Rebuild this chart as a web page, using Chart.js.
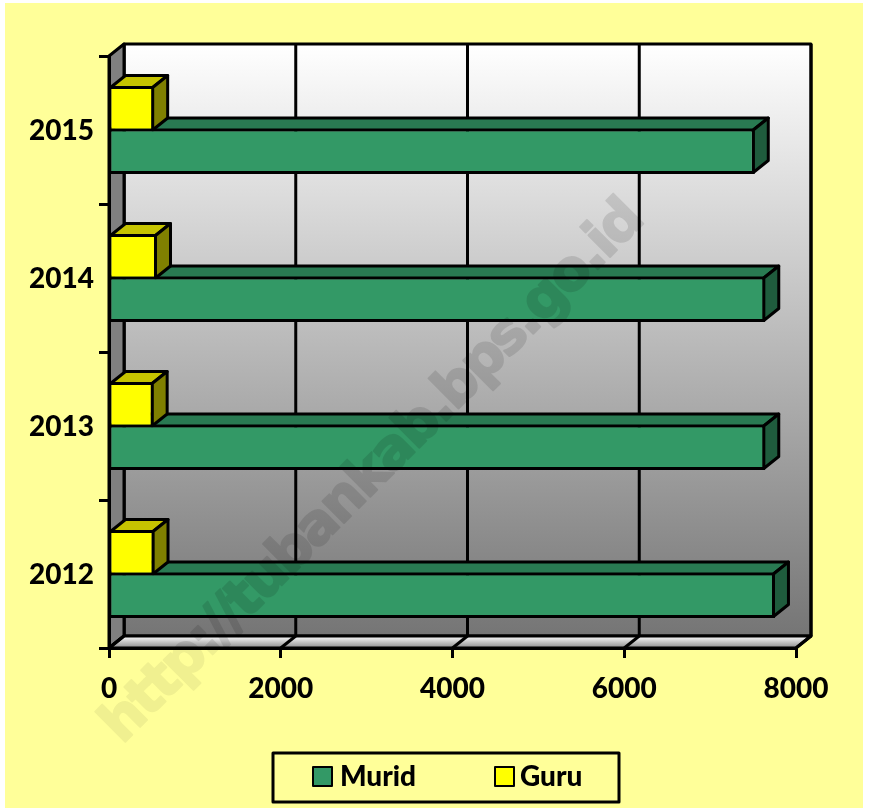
<!DOCTYPE html>
<html>
<head>
<meta charset="utf-8">
<script src="https://cdn.jsdelivr.net/npm/chart.js@4/dist/chart.umd.js"></script>
<style>
    html, body { margin: 0; padding: 0; background: #fff; }
    canvas { display: block; }
</style>
</head>
<body>
<canvas id="grafik" width="869" height="810"></canvas>
<script>
// ---- data
const tahun = ['2012', '2013', '2014', '2015'];
const murid = [7755, 7642, 7642, 7520];
const guru = [530, 520, 559, 526];
const xTicks = [0, 2000, 4000, 6000, 8000];

const DEPTH_X = 15;
const DEPTH_Y = 12;
const LINE = 3;
const FONT = {family: 'Lato', weight: '900', size: 28};

const poly = (ctx, pts, fill) => {
    ctx.beginPath();
    pts.forEach((p, i) => i ? ctx.lineTo(p[0], p[1]) : ctx.moveTo(p[0], p[1]));
    ctx.closePath();
    if (fill) {
        ctx.fillStyle = fill;
        ctx.fill();
    }
    ctx.stroke();
};

// walls and floor of the 3D box, behind everything else
const walls = {
    id: 'walls',
    beforeDraw(chart) {
        const {ctx, chartArea: a, scales} = chart;
        ctx.save();
        // page background of the picture
        ctx.fillStyle = '#FFFF99';
        ctx.fillRect(5, 3, 858, 805);

        ctx.strokeStyle = '#000';
        ctx.lineWidth = LINE;
        ctx.lineJoin = 'round';

        const back = ctx.createLinearGradient(0, a.top - DEPTH_Y, 0, a.bottom - DEPTH_Y);
        back.addColorStop(0, '#FFFFFF');
        back.addColorStop(1, '#757575');
        ctx.fillStyle = back;
        ctx.fillRect(a.left + DEPTH_X, a.top - DEPTH_Y, a.width, a.height);

        // gridlines on the back wall
        xTicks.forEach(v => {
            const x = scales.x.getPixelForValue(v);
            ctx.beginPath();
            ctx.moveTo(x + DEPTH_X, a.top - DEPTH_Y);
            ctx.lineTo(x + DEPTH_X, a.bottom - DEPTH_Y);
            ctx.stroke();
        });
        ctx.strokeRect(a.left + DEPTH_X, a.top - DEPTH_Y, a.width, a.height);

        // left wall
        poly(ctx, [[a.left, a.top], [a.left + DEPTH_X, a.top - DEPTH_Y],
            [a.left + DEPTH_X, a.bottom - DEPTH_Y], [a.left, a.bottom]], '#808080');

        // floor
        const floor = ctx.createLinearGradient(0, a.bottom - DEPTH_Y, 0, a.bottom);
        floor.addColorStop(0, '#FFFFFF');
        floor.addColorStop(1, '#8C8C8C');
        poly(ctx, [[a.left, a.bottom], [a.left + DEPTH_X, a.bottom - DEPTH_Y],
            [a.right + DEPTH_X, a.bottom - DEPTH_Y], [a.right, a.bottom]], floor);
        xTicks.forEach(v => {
            const x = scales.x.getPixelForValue(v);
            ctx.beginPath();
            ctx.moveTo(x, a.bottom);
            ctx.lineTo(x + DEPTH_X, a.bottom - DEPTH_Y);
            ctx.stroke();
        });
        ctx.restore();
    }
};

// top and side faces of the bars, taken from the bar elements
const barFaces = {
    id: 'barFaces',
    beforeDatasetsDraw(chart) {
        const {ctx} = chart;
        ctx.save();
        ctx.strokeStyle = '#000';
        ctx.lineWidth = LINE;
        ctx.lineJoin = 'round';
        chart.data.datasets.forEach((ds, d) => {
            chart.getDatasetMeta(d).data.forEach(bar => {
                // the shared edge between Guru and Murid sits on the bar limit
                const top = bar.y - bar.height / 2 + (ds.borderWidth.top === LINE ? LINE / 2 : 0);
                const bottom = bar.y + bar.height / 2 - (ds.borderWidth.bottom === LINE ? LINE / 2 : 0);
                const right = bar.x - LINE / 2;
                const left = bar.base;
                poly(ctx, [[left, top], [left + DEPTH_X, top - DEPTH_Y],
                    [right + DEPTH_X, top - DEPTH_Y], [right, top]], ds.topColor);
                poly(ctx, [[right, top], [right + DEPTH_X, top - DEPTH_Y],
                    [right + DEPTH_X, bottom - DEPTH_Y], [right, bottom]], ds.sideColor);
            });
        });
        ctx.restore();
    }
};

// legend frame + watermark on top of the chart
const overlay = {
    id: 'overlay',
    afterDraw(chart) {
        const {ctx, chartArea: a} = chart;
        ctx.save();
        ctx.strokeStyle = '#000';
        ctx.lineWidth = LINE;
        ctx.lineJoin = 'round';
        ctx.strokeRect(273, 753, 346, 49);

        const boxX = [313, 495];
        const textX = [340, 520];
        ctx.font = '900 28px Lato';
        ctx.textBaseline = 'middle';
        chart.data.datasets.forEach((ds, i) => {
            ctx.fillStyle = ds.backgroundColor;
            ctx.lineWidth = 2;
            ctx.fillRect(boxX[i], 767, 19, 19);
            ctx.strokeRect(boxX[i], 767, 19, 19);
            ctx.fillStyle = '#000';
            ctx.fillText(ds.label, textX[i], 777);
        });
        ctx.restore();

        // watermark: solid on a spare canvas so the thick outline does not double up
        const spare = document.createElement('canvas');
        spare.width = chart.width;
        spare.height = chart.height;
        const wm = spare.getContext('2d');
        wm.translate(122, 745);
        wm.rotate(-Math.PI / 4);
        wm.font = 'bold 56px "DejaVu Sans"';
        wm.letterSpacing = '-2.9px';
        wm.lineWidth = 2;
        wm.lineJoin = 'round';
        wm.fillText('http://tubankab.bps.go.id', 0, 0);
        wm.strokeText('http://tubankab.bps.go.id', 0, 0);

        // paler on the yellow background than on the plot
        const left = a.left;
        const top = a.top - DEPTH_Y;
        const w = a.width + DEPTH_X;
        const h = a.height + DEPTH_Y;
        ctx.save();
        ctx.globalAlpha = 0.06;
        ctx.beginPath();
        ctx.rect(5, 3, 858, 805);
        ctx.rect(left, top, w, h);
        ctx.clip('evenodd');
        ctx.drawImage(spare, 0, 0);
        ctx.restore();
        ctx.save();
        ctx.globalAlpha = 0.11;
        ctx.beginPath();
        ctx.rect(left, top, w, h);
        ctx.clip();
        ctx.drawImage(spare, 0, 0);
        ctx.restore();
    }
};

const ctx = document.getElementById('grafik').getContext('2d');
const myChart = new Chart(ctx, {
    type: 'bar',
    data: {
        labels: tahun,
        datasets: [
            {
                label: 'Murid',
                data: murid,
                order: 2,
                backgroundColor: '#339966',
                topColor: '#297A52',
                sideColor: '#1F5C3D',
                borderColor: '#000',
                borderWidth: {top: LINE / 2, right: LINE, bottom: LINE, left: 1},
                borderSkipped: false
            },
            {
                label: 'Guru',
                data: guru,
                order: 1,
                backgroundColor: '#FFFF00',
                topColor: '#C6C400',
                sideColor: '#808000',
                borderColor: '#000',
                borderWidth: {top: LINE, right: LINE, bottom: LINE / 2, left: 1},
                borderSkipped: false
            }
        ]
    },
    options: {
        indexAxis: 'y',
        responsive: false,
        animation: false,
        categoryPercentage: 0.5946,
        barPercentage: 1,
        layout: {
            padding: {left: 0, right: 73, top: 56, bottom: 72}
        },
        plugins: {
            legend: {display: false},
            tooltip: {enabled: false}
        },
        scales: {
            x: {
                type: 'linear',
                min: 0,
                max: 8000,
                ticks: {stepSize: 2000, color: '#000', font: FONT, maxRotation: 0, padding: 14, callback: v => String(v)},
                grid: {drawOnChartArea: false, drawTicks: true, tickLength: 10, color: '#000', lineWidth: LINE},
                border: {color: '#000', width: LINE},
                afterFit: s => { s.height = 90; }
            },
            y: {
                reverse: true,
                ticks: {color: '#000', font: FONT, padding: 5, labelOffset: 1},
                grid: {drawOnChartArea: false, drawTicks: true, tickLength: 10, color: '#000', lineWidth: LINE, offset: true},
                border: {color: '#000', width: LINE},
                afterFit: s => { s.width = 109; }
            }
        }
    },
    plugins: [walls, barFaces, overlay]
});
</script>
</body>
</html>
